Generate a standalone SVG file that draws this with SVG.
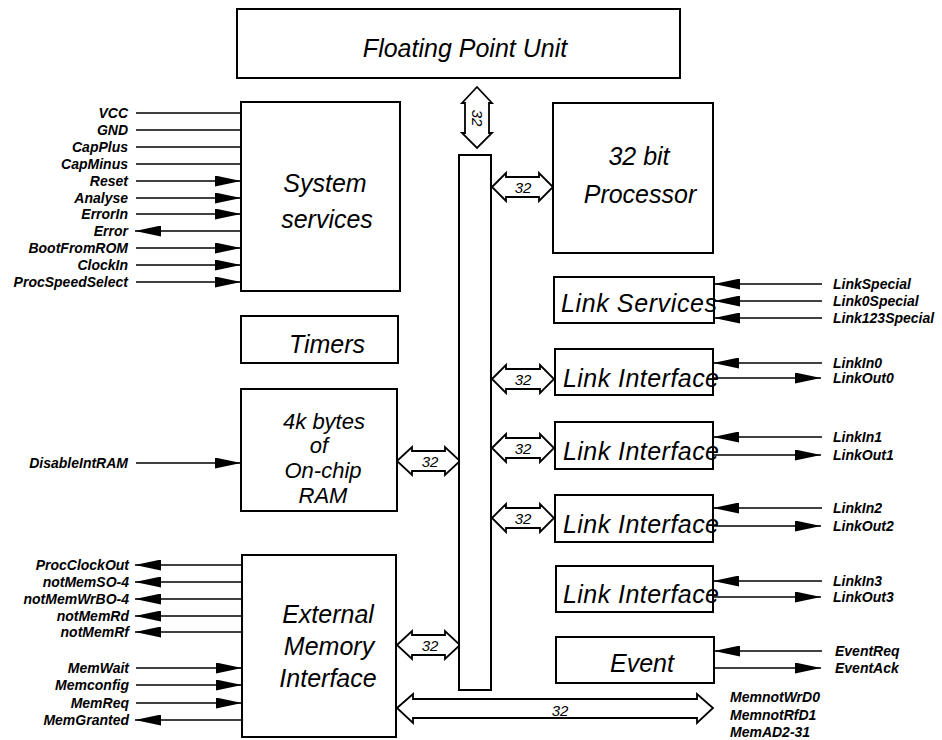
<svg xmlns="http://www.w3.org/2000/svg" width="942" height="740" viewBox="0 0 942 740">
<style>
.box{fill:#fff;stroke:#000;stroke-width:2}
.big{font-family:"Liberation Sans",Arial,sans-serif;font-style:italic;font-size:25px;fill:#000}
.ram{font-size:22px}
.sig{font-family:"Liberation Sans",Arial,sans-serif;font-style:italic;font-weight:bold;font-size:14px;fill:#000}
.num{font-family:"Liberation Sans",Arial,sans-serif;font-style:italic;font-size:15px;fill:#000;text-anchor:middle}
.w{stroke:#000;stroke-width:1.6;fill:none}
.wa{stroke:#000;stroke-width:1.6;fill:none;marker-end:url(#ah)}
.bus{fill:#fff;stroke:#000;stroke-width:1.8;stroke-linejoin:miter}
.r{text-anchor:end}
.m{text-anchor:middle}
</style>
<defs>
<marker id="ah" markerUnits="userSpaceOnUse" markerWidth="26" markerHeight="11" refX="26" refY="5.5" orient="auto">
<path d="M0,0 L26,5.5 L0,11 z" fill="#000"/>
</marker>
</defs>
<rect width="942" height="740" fill="#fff"/>

<g id="connectors">
<line class="w" x1="136" y1="113" x2="241" y2="113"/>
<line class="w" x1="136" y1="130" x2="241" y2="130"/>
<line class="w" x1="136" y1="147" x2="241" y2="147"/>
<line class="w" x1="136" y1="164" x2="241" y2="164"/>
<line class="wa" x1="136" y1="181" x2="241" y2="181"/>
<line class="wa" x1="136" y1="198" x2="241" y2="198"/>
<line class="wa" x1="136" y1="214" x2="241" y2="214"/>
<line class="wa" x1="241" y1="231" x2="135" y2="231"/>
<line class="wa" x1="136" y1="248" x2="241" y2="248"/>
<line class="wa" x1="136" y1="265" x2="241" y2="265"/>
<line class="wa" x1="136" y1="282" x2="241" y2="282"/>
<line class="wa" x1="136" y1="463" x2="241" y2="463"/>
<line class="wa" x1="242" y1="565" x2="135" y2="565"/>
<line class="wa" x1="242" y1="582" x2="135" y2="582"/>
<line class="wa" x1="242" y1="599" x2="135" y2="599"/>
<line class="wa" x1="242" y1="616" x2="135" y2="616"/>
<line class="wa" x1="242" y1="632" x2="135" y2="632"/>
<line class="wa" x1="136" y1="668" x2="242" y2="668"/>
<line class="wa" x1="136" y1="685" x2="242" y2="685"/>
<line class="wa" x1="136" y1="703" x2="242" y2="703"/>
<line class="wa" x1="242" y1="720" x2="135" y2="720"/>
<line class="wa" x1="822" y1="284" x2="714" y2="284"/>
<line class="wa" x1="822" y1="301" x2="714" y2="301"/>
<line class="wa" x1="822" y1="318" x2="714" y2="318"/>
<line class="wa" x1="822" y1="363" x2="713" y2="363"/>
<line class="wa" x1="713" y1="378" x2="821" y2="378"/>
<line class="wa" x1="822" y1="437" x2="713" y2="437"/>
<line class="wa" x1="713" y1="455" x2="821" y2="455"/>
<line class="wa" x1="822" y1="508" x2="713" y2="508"/>
<line class="wa" x1="713" y1="526" x2="821" y2="526"/>
<line class="wa" x1="822" y1="581" x2="713" y2="581"/>
<line class="wa" x1="713" y1="597" x2="821" y2="597"/>
<line class="wa" x1="822" y1="651" x2="714" y2="651"/>
<line class="wa" x1="714" y1="668" x2="821" y2="668"/>

<polygon class="bus" points="477,87 492,103 489,103 489,133 492,133 477,148 462,133 465,133 465,103 462,103"/>
<polygon class="bus" points="492,187 506,173 506,177 539,177 539,173 553,187 539,201 539,197 506,197 506,201"/>
<polygon class="bus" points="492,379 506,365 506,369 540,369 540,365 554,379 540,393 540,389 506,389 506,393"/>
<polygon class="bus" points="492,448 506,434 506,438 540,438 540,434 554,448 540,462 540,458 506,458 506,462"/>
<polygon class="bus" points="492,518 506,504 506,508 540,508 540,504 554,518 540,532 540,528 506,528 506,532"/>
<polygon class="bus" points="397,461 412,447 412,451 445,451 445,447 460,461 445,475 445,471 412,471 412,475"/>
<polygon class="bus" points="397,645 412,631 412,635 445,635 445,631 460,645 445,659 445,655 412,655 412,659"/>
<polygon class="bus" points="397,708 413,694 413,699 697,699 697,694 713,708 697,723 697,718 413,718 413,723"/>
<text class="num" transform="translate(472,118) rotate(90)">32</text>
<text class="num" x="523" y="193">32</text>
<text class="num" x="523" y="385">32</text>
<text class="num" x="523" y="454">32</text>
<text class="num" x="523" y="524">32</text>
<text class="num" x="430" y="467">32</text>
<text class="num" x="430" y="651">32</text>
<text class="num" x="560" y="716">32</text>
</g>

<g id="fpu">
<rect class="box" x="237" y="9" width="443" height="69"/>
<text class="big m" x="465" y="57">Floating Point Unit</text>
</g>

<g id="bus">
<rect class="box" x="459" y="155" width="32" height="535"/>
</g>

<g id="system-services">
<rect class="box" x="241" y="102" width="159" height="189"/>
<text class="big m" x="325" y="192">System</text>
<text class="big m" x="327" y="228">services</text>
<text class="sig r" x="128" y="118">VCC</text>
<text class="sig r" x="128" y="135">GND</text>
<text class="sig r" x="128" y="152">CapPlus</text>
<text class="sig r" x="128" y="169">CapMinus</text>
<text class="sig r" x="128" y="186">Reset</text>
<text class="sig r" x="128" y="203">Analyse</text>
<text class="sig r" x="128" y="219">ErrorIn</text>
<text class="sig r" x="128" y="236">Error</text>
<text class="sig r" x="128" y="253">BootFromROM</text>
<text class="sig r" x="128" y="270">ClockIn</text>
<text class="sig r" x="128" y="287">ProcSpeedSelect</text>
</g>

<g id="timers">
<rect class="box" x="241" y="316" width="157" height="47"/>
<text class="big m" x="327" y="353">Timers</text>
</g>

<g id="ram">
<rect class="box" x="241" y="389" width="156" height="122"/>
<text class="big ram m" x="324" y="429">4k bytes</text>
<text class="big ram m" x="319" y="453">of</text>
<text class="big ram m" x="323" y="478">On-chip</text>
<text class="big ram m" x="323" y="503">RAM</text>
<text class="sig r" x="128" y="468">DisableIntRAM</text>
</g>

<g id="external-memory-interface">
<rect class="box" x="242" y="555" width="154" height="182"/>
<text class="big m" x="328" y="623">External</text>
<text class="big m" x="329" y="655">Memory</text>
<text class="big m" x="328" y="687">Interface</text>
<text class="sig r" x="129" y="570">ProcClockOut</text>
<text class="sig r" x="129" y="587">notMemSO-4</text>
<text class="sig r" x="129" y="604">notMemWrBO-4</text>
<text class="sig r" x="129" y="621">notMemRd</text>
<text class="sig r" x="129" y="637">notMemRf</text>
<text class="sig r" x="129" y="673">MemWait</text>
<text class="sig r" x="129" y="690">Memconfig</text>
<text class="sig r" x="129" y="708">MemReq</text>
<text class="sig r" x="129" y="725">MemGranted</text>
<text class="sig" x="730" y="702">MemnotWrD0</text>
<text class="sig" x="730" y="720">MemnotRfD1</text>
<text class="sig" x="730" y="737">MemAD2-31</text>
</g>

<g id="processor">
<rect class="box" x="553" y="103" width="160" height="150"/>
<text class="big m" x="639" y="165">32 bit</text>
<text class="big m" x="640" y="203">Processor</text>
</g>

<g id="link-services">
<rect class="box" x="554" y="277" width="160" height="46"/>
<text class="big" x="561" y="312" textLength="156">Link Services</text>
<text class="sig" x="833" y="289">LinkSpecial</text>
<text class="sig" x="833" y="306">Link0Special</text>
<text class="sig" x="833" y="323">Link123Special</text>
</g>

<g id="link-interface-0">
<rect class="box" x="555" y="349" width="158" height="46"/>
<text class="big" x="563" y="387" textLength="156">Link Interface</text>
<text class="sig" x="833" y="368">LinkIn0</text>
<text class="sig" x="833" y="383">LinkOut0</text>
</g>

<g id="link-interface-1">
<rect class="box" x="555" y="422" width="158" height="47"/>
<text class="big" x="563" y="460" textLength="156">Link Interface</text>
<text class="sig" x="833" y="442">LinkIn1</text>
<text class="sig" x="833" y="460">LinkOut1</text>
</g>

<g id="link-interface-2">
<rect class="box" x="555" y="495" width="158" height="47"/>
<text class="big" x="563" y="533" textLength="156">Link Interface</text>
<text class="sig" x="833" y="513">LinkIn2</text>
<text class="sig" x="833" y="531">LinkOut2</text>
</g>

<g id="link-interface-3">
<rect class="box" x="556" y="566" width="157" height="46"/>
<text class="big" x="563" y="603" textLength="156">Link Interface</text>
<text class="sig" x="833" y="586">LinkIn3</text>
<text class="sig" x="833" y="602">LinkOut3</text>
</g>

<g id="event">
<rect class="box" x="556" y="637" width="158" height="46"/>
<text class="big m" x="642" y="672">Event</text>
<text class="sig" x="835" y="656">EventReq</text>
<text class="sig" x="835" y="673">EventAck</text>
</g>
</svg>
